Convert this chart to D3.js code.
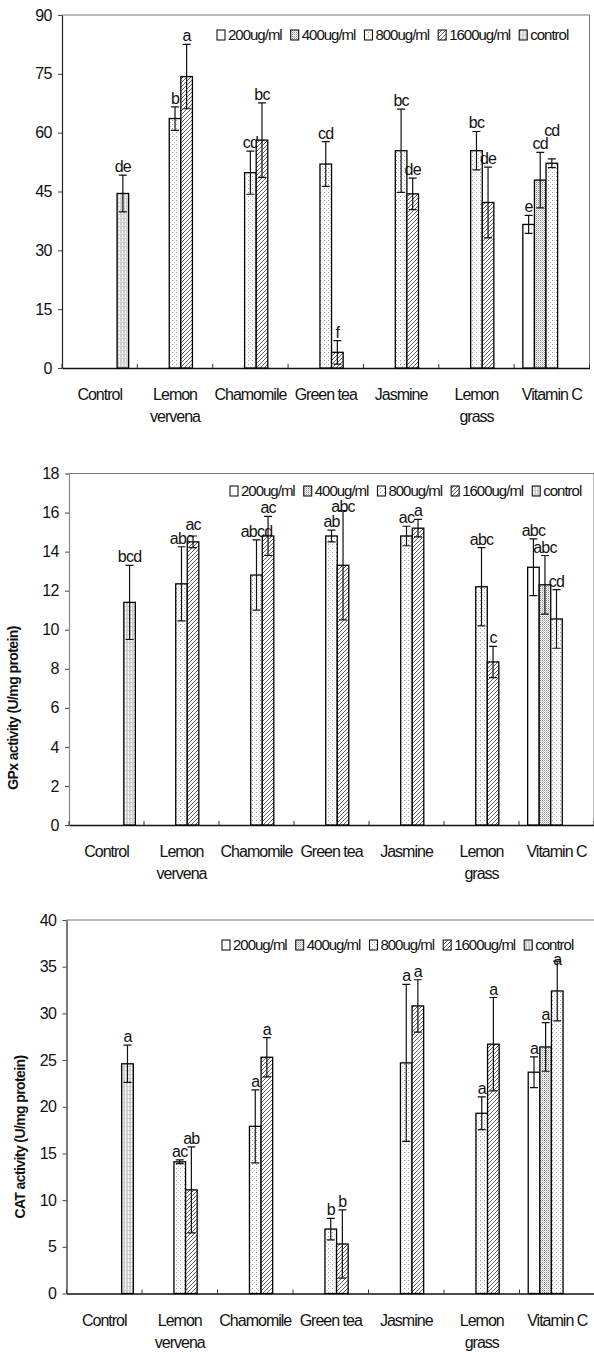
<!DOCTYPE html>
<html><head><meta charset="utf-8">
<script src="https://cdn.jsdelivr.net/npm/d3@7"></script>
<style>
body{margin:0;background:#fff}
svg{display:block}
text{font-family:"Liberation Sans",Arial,sans-serif;fill:#111}
</style>
</head><body>
<svg id="chart" width="594" height="1352"></svg>
<script>
// ---------- DATA ----------
const categories = ["Control", "Lemon\nvervena", "Chamomile", "Green tea", "Jasmine", "Lemon\ngrass", "Vitamin C"];
const seriesNames = ["200ug/ml", "400ug/ml", "800ug/ml", "1600ug/ml", "control"];

// Panel 1 (no y title)
const panel1Ticks = [0, 15, 30, 45, 60, 75, 90];
const panel1Means = [
  [null, null, null, null, null, null, 36.6],
  [null, null, null, null, null, null, 47.9],
  [null, 63.6, 49.8, 52.0, 55.4, 55.4, 52.2],
  [null, 74.3, 58.1, 4.0, 44.4, 42.2, null],
  [44.5, null, null, null, null, null, null]
];
const panel1Errors = [
  [null, null, null, null, null, null, 2.3],
  [null, null, null, null, null, null, 7.1],
  [null, 3.0, 5.5, 5.7, 10.6, 4.9, 1.1],
  [null, 8.2, 9.5, 3.0, 4.0, 9.0, null],
  [4.7, null, null, null, null, null, null]
];
const panel1Letters = [
  [null, null, null, null, null, null, "e"],
  [null, null, null, null, null, null, "cd"],
  [null, "b", "cd", "cd", "bc", "bc", "cd"],
  [null, "a", "bc", "f", "de", "de", null],
  ["de", null, null, null, null, null, null]
];

// Panel 2: GPx
const panel2Ticks = [0, 2, 4, 6, 8, 10, 12, 14, 16, 18];
const panel2Means = [
  [null, null, null, null, null, null, 13.2],
  [null, null, null, null, null, null, 12.3],
  [null, 12.35, 12.8, 14.8, 14.8, 12.2, 10.55],
  [null, 14.5, 14.8, 13.3, 15.2, 8.35, null],
  [11.4, null, null, null, null, null, null]
];
const panel2Errors = [
  [null, null, null, null, null, null, 1.45],
  [null, null, null, null, null, null, 1.5],
  [null, 1.9, 1.8, 0.3, 0.5, 2.0, 1.5],
  [null, 0.3, 1.0, 2.8, 0.45, 0.8, null],
  [1.9, null, null, null, null, null, null]
];
const panel2Letters = [
  [null, null, null, null, null, null, "abc"],
  [null, null, null, null, null, null, "abc"],
  [null, "abc", "abcd", "ab", "ac", "abc", "cd"],
  [null, "ac", "ac", "abc", "a", "c", null],
  ["bcd", null, null, null, null, null, null]
];

// Panel 3: CAT
const panel3Ticks = [0, 5, 10, 15, 20, 25, 30, 35, 40];
const panel3Means = [
  [null, null, null, null, null, null, 23.7],
  [null, null, null, null, null, null, 26.4],
  [null, 14.1, 17.9, 6.9, 24.7, 19.3, 32.4],
  [null, 11.1, 25.3, 5.3, 30.8, 26.7, null],
  [24.6, null, null, null, null, null, null]
];
const panel3Errors = [
  [null, null, null, null, null, null, 1.65],
  [null, null, null, null, null, null, 2.6],
  [null, 0.2, 3.9, 1.15, 8.4, 1.75, 3.2],
  [null, 4.6, 2.1, 3.65, 2.8, 5.0, null],
  [2.0, null, null, null, null, null, null]
];
const panel3Letters = [
  [null, null, null, null, null, null, "a"],
  [null, null, null, null, null, null, "a"],
  [null, "ac", "a", "b", "a", "a", "a"],
  [null, "ab", "a", "b", "a", "a", null],
  ["a", null, null, null, null, null, null]
];

// ---------- DRAWING ----------
const svg = d3.select("#chart");
const defs = svg.append("defs");
function pattern(id, w, h, draw) {
  const p = defs.append("pattern").attr("id", id).attr("patternUnits", "userSpaceOnUse")
    .attr("width", w).attr("height", h);
  p.append("rect").attr("width", w).attr("height", h).attr("fill", "#fff");
  draw(p);
}
pattern("pat0", 4, 4, p => {});
pattern("pat1", 2, 2, p => {
  p.append("rect").attr("x", 0).attr("y", 0).attr("width", 1).attr("height", 1).attr("fill", "#888");
  p.append("rect").attr("x", 1).attr("y", 1).attr("width", 1).attr("height", 1).attr("fill", "#ccc");
});
pattern("pat2", 4, 4, p => {
  p.append("rect").attr("x", 0).attr("y", 0).attr("width", 1).attr("height", 1).attr("fill", "#999");
  p.append("rect").attr("x", 2).attr("y", 2).attr("width", 1).attr("height", 1).attr("fill", "#c8c8c8");
});
pattern("pat3", 4, 4, p => {
  p.append("path").attr("d", "M-1,1 l2,-2 M0,4 l4,-4 M3,5 l2,-2")
    .attr("stroke", "#333").attr("stroke-width", 0.8);
});
pattern("pat4", 3, 4, p => {
  p.append("line").attr("x1", 1).attr("x2", 1).attr("y1", 0).attr("y2", 4)
    .attr("stroke", "#888").attr("stroke-width", 0.8);
  p.append("rect").attr("x", 2).attr("y", 2).attr("width", 1).attr("height", 1).attr("fill", "#ccc");
});
const fills = ["url(#pat0)", "url(#pat1)", "url(#pat2)", "url(#pat3)", "url(#pat4)"];

const panels = [
  { left: 62, right: 589.5, top: 15, bottom: 368, ticks: panel1Ticks, means: panel1Means, errors: panel1Errors,
    letters: panel1Letters, legendX: 217, legendY: 35, axisColor: "#222", title: null },
  { left: 69, right: 594, top: 473.5, bottom: 825, ticks: panel2Ticks, means: panel2Means, errors: panel2Errors,
    letters: panel2Letters, legendX: 230, legendY: 491, axisColor: "#888",
    title: "GPx activity (U/mg protein)", titleX: 13, titleY: 708 },
  { left: 66.5, right: 595, top: 920, bottom: 1293.5, ticks: panel3Ticks, means: panel3Means, errors: panel3Errors,
    letters: panel3Letters, legendX: 222, legendY: 945, axisColor: "#222",
    title: "CAT activity (U/mg protein)", titleX: 20, titleY: 1137 }
];

function overlaps(a, b) {
  return a.x < b.x + b.width && b.x < a.x + a.width && a.y < b.y + b.height && b.y < a.y + a.height;
}

panels.forEach(cfg => {
  const g = svg.append("g");
  const x = d3.scaleBand().domain(d3.range(categories.length)).range([cfg.left, cfg.right]);
  const bw = x.bandwidth();
  const group = bw * 5 / 6.5;
  const xs = d3.scaleBand().domain(seriesNames).range([(bw - group) / 2, (bw + group) / 2]);
  const y = d3.scaleLinear().domain([0, d3.max(cfg.ticks)]).range([cfg.bottom, cfg.top]);

  // frame (top & right)
  g.append("path").attr("d", `M${cfg.left},${cfg.top}H${cfg.right}V${cfg.bottom}`)
    .attr("fill", "none").attr("stroke", "#777").attr("stroke-width", 1);

  // y axis
  const ya = g.append("g").attr("transform", `translate(${cfg.left},0)`)
    .call(d3.axisLeft(y).tickValues(cfg.ticks).tickSize(4).tickSizeOuter(0).tickPadding(6));
  ya.select(".domain").attr("stroke", cfg.axisColor).attr("stroke-width", 1.2);
  ya.selectAll(".tick line").attr("stroke", "#444");
  ya.selectAll(".tick text").style("font-size", "16px").style("letter-spacing", "-0.5px")
    .style("font-family", '"Liberation Sans",Arial,sans-serif').attr("fill", "#111");

  // x axis line + boundary ticks
  const xa = g.append("g").attr("transform", `translate(0,${cfg.bottom})`)
    .call(d3.axisBottom(x).tickSize(0).tickFormat(""));
  xa.select(".domain").attr("stroke", "#111").attr("stroke-width", 1.3);
  xa.selectAll(".tick").remove();
  const bounds = d3.range(categories.length + 1).map(i => cfg.left + i * bw);
  g.selectAll(".bt").data(bounds).join("line")
    .attr("x1", d => d).attr("x2", d => d).attr("y1", cfg.bottom).attr("y2", cfg.bottom - 4)
    .attr("stroke", "#333").attr("stroke-width", 1);

  // category labels
  categories.forEach((c, i) => {
    const t = g.append("text").attr("text-anchor", "middle")
      .attr("transform", `translate(${x(i) + bw / 2},${cfg.bottom + 32})`)
      .style("font-size", "16px").style("letter-spacing", "-1px");
    c.split("\n").forEach((line, k) => {
      t.append("tspan").attr("x", 0).attr("dy", k === 0 ? 0 : 22).text(line);
    });
  });

  // legend (drawn first so letters can avoid it)
  const legendBoxes = [];
  let lx = cfg.legendX;
  seriesNames.forEach((s, si) => {
    g.append("rect").attr("x", lx).attr("y", cfg.legendY - 5).attr("width", 8).attr("height", 10)
      .attr("fill", fills[si]).attr("stroke", "#000").attr("stroke-width", 1);
    const t = g.append("text").attr("x", lx + 11).attr("y", cfg.legendY + 5)
      .style("font-size", "15px").style("letter-spacing", "-1px").text(s);
    const tb = t.node().getBBox();
    legendBoxes.push({ x: lx, y: tb.y, width: tb.x + tb.width - lx, height: tb.height });
    lx += 11 + t.node().getComputedTextLength() + 9;
  });

  // bars, error bars, letters
  const placed = [];
  seriesNames.forEach((s, si) => {
    const data = cfg.means[si].map((v, i) => ({ v, i, e: cfg.errors[si][i], l: cfg.letters[si][i] }))
      .filter(d => d.v != null);
    const bx = d => x(d.i) + xs(s);
    g.selectAll(null).data(data).join("rect")
      .attr("x", bx).attr("width", xs.bandwidth())
      .attr("y", d => y(d.v)).attr("height", d => y(0) - y(d.v))
      .attr("fill", fills[si]).attr("stroke", "#000").attr("stroke-width", 1.3);
    const cx = d => bx(d) + xs.bandwidth() / 2;
    g.selectAll(null).data(data).join("path")
      .attr("d", d => {
        const c = cx(d), y1 = y(d.v + d.e), y0 = y(Math.max(0, d.v - d.e));
        return `M${c},${y0}V${y1}M${c - 4},${y1}H${c + 4}M${c - 4},${y0}H${c + 4}`;
      })
      .attr("fill", "none").attr("stroke", "#111").attr("stroke-width", 1.2);
    data.filter(d => d.l).forEach(d => {
      let by = y(d.v + d.e) - 3;
      const t = g.append("text").attr("x", cx(d)).attr("y", by)
        .attr("text-anchor", "middle")
        .style("font-size", "16px").style("letter-spacing", "-0.8px")
        .text(d.l);
      const box = () => { const b = t.node().getBBox(); return { x: b.x + 1, y: b.y + 2, width: b.width - 2, height: b.height - 4 }; };
      let bb = box(), guard = 0;
      // move up away from earlier letters
      while (placed.some(p => overlaps(bb, p)) && guard < 20) { by -= 1; t.attr("y", by); bb = box(); guard++; }
      // but stay below the legend
      guard = 0;
      while (legendBoxes.some(p => overlaps(bb, p)) && guard < 20) { by += 1; t.attr("y", by); bb = box(); guard++; }
      placed.push(bb);
    });
  });

  // y title
  if (cfg.title) {
    g.append("text").attr("transform", `translate(${cfg.titleX},${cfg.titleY}) rotate(-90)`)
      .attr("text-anchor", "middle").attr("dy", "0.35em")
      .style("font-size", "14px").style("font-weight", "bold").style("letter-spacing", "-0.6px")
      .text(cfg.title);
  }
});
</script>
</body></html>
